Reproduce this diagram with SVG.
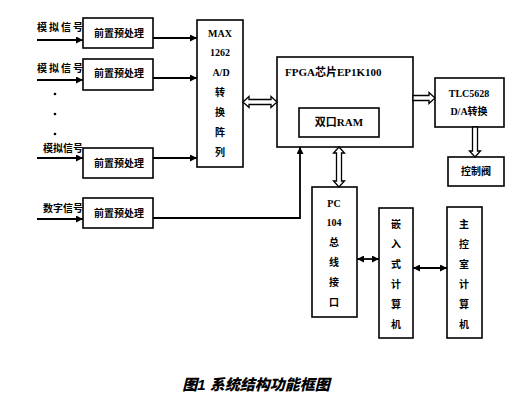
<svg xmlns="http://www.w3.org/2000/svg" width="520" height="403" viewBox="0 0 520 403">
<defs>
<marker id="ah" viewBox="0 0 10 10" refX="10" refY="5" markerWidth="7" markerHeight="7" markerUnits="userSpaceOnUse" orient="auto-start-reverse"><path d="M0,0 L10,5 L0,10 z" fill="#000"/></marker>
</defs>
<style>
.b{fill:#fff;stroke:#000;stroke-width:1.6}
.t{font-family:"Liberation Serif","Noto Sans CJK SC",serif;font-size:10px;font-weight:bold;fill:#000}
.c{text-anchor:middle}
.l{stroke:#000;stroke-width:1.8;fill:none}
.h{fill:#fff;stroke:#000;stroke-width:1.3}
</style>
<rect width="520" height="403" fill="#fff"/>
<g id="in1"><text class="t" x="37" y="31" textLength="46">模拟信号</text></g>
<g id="in2"><text class="t" x="37" y="72" textLength="46">模拟信号</text></g>
<g id="in3"><text class="t" x="43" y="152" textLength="40">模拟信号</text></g>
<g id="in4"><text class="t" x="43" y="212" textLength="40">数字信号</text></g>
<g id="dots"><circle cx="55" cy="94" r="1.3"/><circle cx="55" cy="114" r="1.3"/><circle cx="55" cy="134" r="1.3"/></g>
<g id="pre1"><rect class="b" x="83" y="18" width="70" height="30"/><text class="t c" x="119" y="37">前置预处理</text></g>
<g id="pre2"><rect class="b" x="83" y="59" width="70" height="31"/><text class="t c" x="119" y="77">前置预处理</text></g>
<g id="pre3"><rect class="b" x="83" y="148" width="70" height="30"/><text class="t c" x="119" y="167">前置预处理</text></g>
<g id="pre4"><rect class="b" x="83" y="198" width="70" height="30"/><text class="t c" x="119" y="217">前置预处理</text></g>
<g id="max"><rect class="b" x="197" y="20" width="46" height="147"/>
<text class="t c" x="220" y="37">MAX</text><text class="t c" x="220" y="56">1262</text><text class="t c" x="221" y="76">A/D</text>
<text class="t c" x="220" y="96">转</text><text class="t c" x="220" y="116">换</text><text class="t c" x="220" y="136">阵</text><text class="t c" x="220" y="156">列</text></g>
<g id="fpga"><rect class="b" x="277" y="57" width="136" height="90"/><text class="t" x="285" y="76" style="font-size:11px">FPGA芯片EP1K100</text>
<rect class="b" x="299" y="108" width="80" height="29"/><text class="t c" x="339" y="126" style="font-size:11px">双口RAM</text></g>
<g id="tlc"><rect class="b" x="435" y="78" width="69" height="49"/><text class="t c" x="469" y="97">TLC5628</text><text class="t c" x="469" y="115">D/A转换</text></g>
<g id="valve"><rect class="b" x="448" y="157" width="56" height="29"/><text class="t c" x="476" y="175">控制阀</text></g>
<g id="pc104"><rect class="b" x="312" y="187" width="45" height="130"/>
<text class="t c" x="334" y="207">PC</text><text class="t c" x="334" y="226">104</text><text class="t c" x="334" y="246">总</text><text class="t c" x="334" y="266">线</text><text class="t c" x="334" y="286">接</text><text class="t c" x="334" y="306">口</text></g>
<g id="emb"><rect class="b" x="379" y="208" width="34" height="130"/>
<text class="t c" x="396" y="228">嵌</text><text class="t c" x="396" y="248">入</text><text class="t c" x="396" y="268">式</text><text class="t c" x="396" y="288">计</text><text class="t c" x="396" y="308">算</text><text class="t c" x="396" y="328">机</text></g>
<g id="main"><rect class="b" x="447" y="207" width="35" height="131"/>
<text class="t c" x="464" y="228">主</text><text class="t c" x="464" y="248">控</text><text class="t c" x="464" y="268">室</text><text class="t c" x="464" y="288">计</text><text class="t c" x="464" y="308">算</text><text class="t c" x="464" y="328">机</text></g>
<g id="connectors">
<line class="l" x1="37" y1="40" x2="83" y2="40" marker-end="url(#ah)"/>
<line class="l" x1="37" y1="80" x2="83" y2="80" marker-end="url(#ah)"/>
<line class="l" x1="37" y1="158" x2="83" y2="158" marker-end="url(#ah)"/>
<line class="l" x1="37" y1="219" x2="83" y2="219" marker-end="url(#ah)"/>
<line class="l" x1="153" y1="38" x2="197" y2="38" marker-end="url(#ah)"/>
<line class="l" x1="153" y1="78" x2="197" y2="78" marker-end="url(#ah)"/>
<line class="l" x1="153" y1="158" x2="197" y2="158" marker-end="url(#ah)"/>
<path class="l" d="M153,218 H300 V147" marker-end="url(#ah)"/>
<polygon class="h" points="243,102 249,96.5 249,99.5 271,99.5 271,96.5 277,102 271,107.5 271,104.5 249,104.5 249,107.5"/>
<polygon class="h" points="413,95.5 429,95.5 429,92.5 435,98 429,103.5 429,100.5 413,100.5"/>
<polygon class="h" points="472.5,127 472.5,151 469.5,151 475,157 480.5,151 477.5,151 477.5,127"/>
<polygon class="h" points="339,147 344.5,153 341.5,153 341.5,181 344.5,181 339,187 333.5,181 336.5,181 336.5,153 333.5,153"/>
<line class="l" x1="357" y1="259" x2="379" y2="259" marker-start="url(#ah)" marker-end="url(#ah)"/>
<line class="l" x1="413" y1="268" x2="447" y2="268" marker-start="url(#ah)" marker-end="url(#ah)"/>
</g>
<text x="256" y="390" style="font-family:'Liberation Sans','Noto Sans CJK SC',sans-serif;font-size:15px;font-weight:900;font-style:italic" text-anchor="middle">图1 系统结构功能框图</text>
</svg>
